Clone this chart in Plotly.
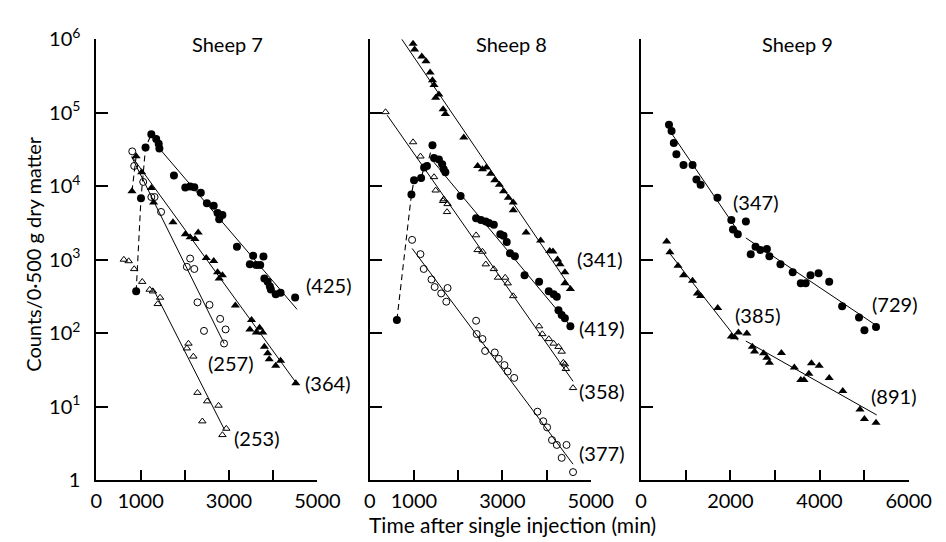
import plotly.graph_objects as go

W, H = 946, 542

# ---------------- Sheep 7 ----------------
s7_fc_rise_t = [900, 1009, 1112, 1243]
s7_fc_rise_c = [371, 6830, 33500, 50800]
s7_fc_t = [1353, 1410, 1425, 1754, 2011, 2121, 2215, 2362, 2500, 2654, 2741, 2851, 2778, 3180,
           3546, 3779, 3472, 3618, 3706, 3800, 3875, 3925, 3947, 4057, 4167, 4496]
s7_fc_c = [43800, 37700, 32500, 13960, 9570, 9860, 9680, 8090, 5830, 5420, 4320, 4030, 3540, 1490,
           1130, 1097, 864, 846, 846, 552, 499, 430, 390, 336, 353, 304]
s7_ft_rise_t = [805, 899]
s7_ft_rise_c = [8490, 25400]
s7_ft_t = [1024, 1243, 1294, 1732, 2011, 2121, 2303, 2230, 2485, 2654, 2741, 2851, 2778, 3143, 3509,
           3472, 3691, 3765, 3618, 3800, 3875, 3910, 4057, 4167, 4511]
s7_ft_c = [15400, 9390, 6000, 3210, 2220, 2010, 2330, 1910, 1052, 953, 673, 610, 553, 237, 151,
           112, 118, 102, 102, 65, 53, 44, 36, 42, 20.8]
s7_oc_t = [811, 855, 1059, 1243, 1316, 1463, 2121, 2046, 2215, 2287, 2559, 2800, 2923, 2434, 2888]
s7_oc_c = [29700, 18800, 11400, 7100, 7100, 4450, 1033, 797, 745, 262, 242, 156, 112, 107, 72]
s7_ot_t = [621, 730, 855, 1037, 1206, 1279, 1441, 1388, 2083, 2046, 2193, 2287, 2507, 2763, 2397, 2939, 2851]
s7_ot_c = [1000, 954, 745, 499, 390, 370, 304, 249, 72, 62, 48, 15.4, 11.8, 10.3, 6.3, 5.0, 4.1]
# fitted lines (end points) and half-lives
s7_fit_fc = ([1425, 4540], [32500, 210], "(425)")
s7_fit_ft = ([800, 4520], [25400, 21], "(364)")
s7_fit_oc = ([800, 2890], [25000, 72], "(257)")
s7_fit_ot = ([1272, 2895], [414, 4.86], "(253)")

# ---------------- Sheep 8 ----------------
s8_ft_t = [673, 980, 1015, 1178, 1272, 1366, 1419, 1454, 1564, 1491, 1660, 1711, 2127, 2441, 2550,
           2638, 2735, 2829, 2932, 3026, 3136, 3246, 3246, 3537, 3866, 4072, 4145, 4248, 4305, 4414,
           4414, 4539]
s8_ft_c = [1030000, 865000, 723000, 581000, 500000, 353000, 275000, 237000, 176000, 160000, 111000,
           96000, 46000, 18800, 17000, 17900, 14700, 12000, 10400, 8490, 6970, 6000, 4680, 2330, 1820,
           1310, 1285, 1000, 864, 673, 476, 398]
s8_fc_rise_t = [614, 943, 1002, 1162, 1230, 1294, 1419]
s8_fc_rise_c = [151, 7690, 12000, 12900, 17900, 18800, 35900]
s8_fc_t = [1454, 1564, 1638, 1673, 1711, 2055, 2406, 2515, 2625, 2697, 2807, 2954, 3026, 3099, 3173,
           3283, 3502, 3831, 4050, 4160, 4232, 4270, 4342, 4414, 4539]
s8_fc_c = [24100, 23000, 19800, 17000, 15400, 7310, 3650, 3470, 3300, 3140, 2990, 2220, 2110, 1730,
           1220, 1107, 610, 499, 370, 336, 313, 204, 176, 159, 124]
s8_ot_t = [357, 980, 1147, 1454, 1491, 1660, 1761, 1673, 1748, 2406, 2441, 2550, 2625, 2807, 2902,
           3064, 3121, 3246, 3831, 3904, 4050, 4160, 4270, 4342, 4379, 4414, 4437, 4599]
s8_ot_c = [102000, 39700, 25400, 13300, 8750, 6300, 5710, 6630, 4450, 2150, 1352, 1285, 864, 745, 569,
           569, 476, 319, 124, 97, 83, 72, 65, 56, 39.6, 37.7, 32.5, 17.9]
s8_oc_t = [958, 1147, 1221, 1397, 1469, 1616, 1761, 1732, 2406, 2419, 2550, 2610, 2829, 2917, 3048,
           3121, 3268, 3794, 3925, 4013, 4123, 4232, 4452, 4342, 4599]
s8_oc_c = [1855, 1186, 745, 536, 423, 346, 410, 267, 147, 97, 83, 57, 54.4, 44.6, 36.6,
           30, 24.5, 8.5, 6.3, 5.2, 3.5, 3.0, 3.0, 2.0, 1.28]
s8_fit_ft = ([724, 4539], [1.0e6, 420], "(341)")
s8_fit_fc = ([1400, 4540], [23000, 125], "(419)")
s8_fit_ot = ([395, 4600], [92300, 22], "(358)")
s8_fit_oc = ([958, 4599], [1418, 1.64], "(377)")

# ---------------- Sheep 9 ----------------
s9_fc_t = [624, 681, 732, 790, 950, 1152, 1239, 1333, 1711, 2022, 2348, 2059, 2167, 2457, 2565, 2674,
           2820, 2876, 3124, 3398, 3580, 3689, 3798, 3978, 4217, 4507, 4885, 5007, 5267]
s9_fc_c = [68500, 56200, 38500, 27200, 19400, 19400, 12300, 10400, 6970, 3470, 3300, 2575, 2220, 1186,
           1493, 1352, 1393, 1107, 864, 673, 476, 476, 610, 653, 499, 232, 163, 109, 121]
s9_ft_t = [572, 645, 826, 950, 1152, 1261, 1333, 1717, 2022, 2093, 2180, 2370, 2493, 2543, 2746, 2820,
           2876, 3145, 3435, 3580, 3652, 3761, 3819, 3993, 4217, 4522, 4907, 5007, 5267]
s9_ft_c = [1767, 1259, 822, 610, 514, 346, 319, 219, 89.5, 87.7, 102, 98.8, 65, 56, 53, 46,
           39.5, 53.3, 34, 22.9, 22.9, 28, 38.8, 35.8, 24.5, 16.2, 9.1, 6.75, 6.0]
s9_fit_fc1 = ([630, 2200], [58000, 2300], "(347)")
s9_fit_fc2 = ([2348, 5246], [1968, 130], "(729)")
s9_fit_ft1 = ([609, 2167], [1285, 79.5], "(385)")
s9_fit_ft2 = ([2348, 5283], [77.8, 7.67], "(891)")

panel_titles = ["Sheep 7", "Sheep 8", "Sheep 9"]
y_tickvals = [1, 10, 100, 1e3, 1e4, 1e5, 1e6]
y_ticktext = ["1", "10<sup>1</sup>", "10<sup>2</sup>", "10<sup>3</sup>",
              "10<sup>4</sup>", "10<sup>5</sup>", "10<sup>6</sup>"]
x_title = "Time after single injection (min)"
y_title = "Counts/0·500 g dry matter"

FONT = "Lato"
fig = go.Figure()


def px2paper(x, y):
    return x / W, 1 - y / H


MK = {
    "fc": dict(symbol="circle", size=8, color="black", line=dict(width=0)),
    "oc": dict(symbol="circle-open", size=7, color="black", line=dict(width=1)),
    "ft": dict(symbol="triangle-up", size=8, color="black", line=dict(width=0)),
    "ot": dict(symbol="triangle-up-open", size=6.5, color="black", line=dict(width=1)),
}


def pts(ax, t, c, kind):
    fig.add_trace(go.Scatter(x=t, y=c, mode="markers", marker=MK[kind], xaxis="x" + ax,
                             yaxis="y" + ax, cliponaxis=False, showlegend=False, hoverinfo="skip"))


def dashed(ax, t, c, kind):
    fig.add_trace(go.Scatter(x=t, y=c, mode="lines+markers", marker=MK[kind],
                             line=dict(color="black", width=1.1, dash="6px,4px"),
                             xaxis="x" + ax, yaxis="y" + ax, cliponaxis=False,
                             showlegend=False, hoverinfo="skip"))


def fit(ax, f):
    fig.add_trace(go.Scatter(x=f[0], y=f[1], mode="lines", line=dict(color="black", width=1),
                             xaxis="x" + ax, yaxis="y" + ax, cliponaxis=False,
                             showlegend=False, hoverinfo="skip"))


# Sheep 7
for f in (s7_fit_fc, s7_fit_ft, s7_fit_oc, s7_fit_ot):
    fit("", f)
dashed("", s7_fc_rise_t, s7_fc_rise_c, "fc")
dashed("", s7_ft_rise_t, s7_ft_rise_c, "ft")
pts("", s7_fc_t, s7_fc_c, "fc")
pts("", s7_ft_t, s7_ft_c, "ft")
pts("", s7_oc_t, s7_oc_c, "oc")
pts("", s7_ot_t, s7_ot_c, "ot")
# Sheep 8
for f in (s8_fit_ft, s8_fit_fc, s8_fit_ot, s8_fit_oc):
    fit("2", f)
dashed("2", s8_fc_rise_t, s8_fc_rise_c, "fc")
pts("2", s8_ft_t, s8_ft_c, "ft")
pts("2", s8_fc_t, s8_fc_c, "fc")
pts("2", s8_ot_t, s8_ot_c, "ot")
pts("2", s8_oc_t, s8_oc_c, "oc")
# Sheep 9
for f in (s9_fit_fc1, s9_fit_fc2, s9_fit_ft1, s9_fit_ft2):
    fit("3", f)
pts("3", s9_fc_t, s9_fc_c, "fc")
pts("3", s9_ft_t, s9_ft_c, "ft")

# axes
ytop, ybot = 17, 480
ydom = [1 - ybot / H, 1 - ytop / H]
xdoms = [(85, 313), (367, 595), (647, 923)]
xranges = [[0, 5000], [0, 5000], [0, 6000]]
xticktexts = [["0", "1000", "", "3000", "", "5000"],
              ["0", "1000", "", "3000", "", "5000"],
              ["0", "", "2000", "", "4000", "", "6000"]]
tickfont = dict(family=FONT, size=20, color="black")
layout_axes = {}
for i in range(3):
    sfx = "" if i == 0 else str(i + 1)
    xr = xranges[i]
    tv = list(range(0, xr[1] + 1, 1000))
    layout_axes["xaxis" + sfx] = dict(
        domain=[xdoms[i][0] / W, xdoms[i][1] / W], range=xr, anchor="y" + sfx,
        tickvals=tv, ticktext=xticktexts[i], ticks="inside", ticklen=10, tickwidth=2,
        tickcolor="black", showline=True, linewidth=2, linecolor="black",
        showgrid=False, zeroline=False, tickfont=tickfont, ticklabelstandoff=2,
    )
    layout_axes["yaxis" + sfx] = dict(
        domain=ydom, type="log", range=[0, 6], anchor="x" + sfx,
        tickvals=y_tickvals, ticktext=y_ticktext, showticklabels=(i == 0),
        ticks="inside", ticklen=12, tickwidth=2, tickcolor="black",
        showline=True, linewidth=2, linecolor="black", showgrid=False, zeroline=False,
        tickfont=tickfont, ticklabelstandoff=10,
    )

annotations = []


def label(text, x, y, size=20, angle=0):
    px, py = px2paper(x, y)
    annotations.append(dict(text=text, x=px, y=py, xref="paper", yref="paper", showarrow=False,
                            xanchor="center", yanchor="middle", textangle=angle,
                            font=dict(family=FONT, size=size, color="black")))


label(panel_titles[0], 220, 22)
label(panel_titles[1], 513, 22)
label(panel_titles[2], 808, 22)
label(s7_fit_fc[2], 324, 275)
label(s7_fit_ft[2], 323, 378)
label(s7_fit_oc[2], 223, 357)
label(s7_fit_ot[2], 250, 436)
label(s8_fit_ft[2], 604, 248)
label(s8_fit_fc[2], 606, 320)
label(s8_fit_ot[2], 606, 387)
label(s8_fit_oc[2], 606, 452)
label(s9_fit_fc1[2], 765, 188)
label(s9_fit_ft1[2], 767, 307)
label(s9_fit_fc2[2], 908, 295)
label(s9_fit_ft2[2], 907, 392)
label(x_title, 514, 527, size=21)
label(y_title, 20, 242, size=20, angle=-90)

fig.update_layout(width=W, height=H, autosize=False, margin=dict(l=0, r=0, t=0, b=0),
                  paper_bgcolor="white", plot_bgcolor="white", showlegend=False,
                  annotations=annotations, **layout_axes)
fig.write_html("out.html")
